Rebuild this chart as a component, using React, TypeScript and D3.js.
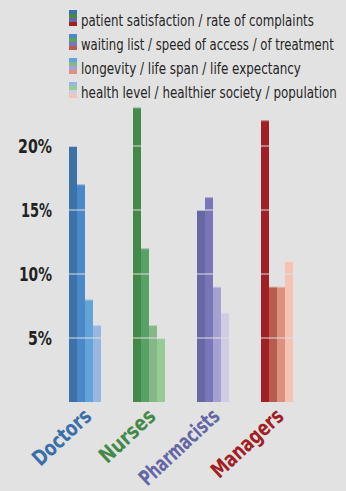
import React, { useLayoutEffect, useRef, useState } from "react";
import * as d3 from "d3";

const categories = ["Doctors", "Nurses", "Pharmacists", "Managers"];
const seriesLabels = [
  "patient satisfaction / rate of complaints",
  "waiting list / speed of access / of treatment",
  "longevity / life span / life expectancy",
  "health level / healthier society / population",
];
// values[category][series] in %
const doctors = [20, 17, 8, 6];
const nurses = [23, 12, 6, 5];
const pharmacists = [15, 16, 9, 7];
const managers = [22, 9, 9, 11];
const values = [doctors, nurses, pharmacists, managers];
const yTicks = [5, 10, 15, 20];

const palette = [
  ["#3d72a8", "#4a88c9", "#62a3d9", "#97b6e0"],
  ["#44884a", "#57a264", "#85b788", "#97cb96"],
  ["#6668a4", "#7b76b7", "#a7a1d1", "#cfcde4"],
  ["#a02026", "#b75d50", "#df8f7e", "#f4c3b4"],
];
const labelColors = ["#3a70aa", "#45894a", "#6566a4", "#a01f25"];
const legendWidths = [233, 253, 220, 256];
const tickWidths = [24, 33, 31, 34];
const catWidths = [72, 68, 101, 90];

const W = 346;
const H = 491;
const BG = "#e2e2e2";
const FONT = "'DejaVu Sans Condensed', 'Liberation Sans Narrow', sans-serif";

function FitText(props: {
  x: number;
  y: number;
  width: number;
  anchor?: "start" | "end";
  fontSize: number;
  bold?: boolean;
  fill: string;
  dy?: string;
  children: string;
}) {
  const ref = useRef<SVGTextElement>(null);
  const [sx, setSx] = useState(1);
  useLayoutEffect(() => {
    if (ref.current) {
      const w = ref.current.getComputedTextLength();
      if (w > 0) setSx(props.width / w);
    }
  }, [props.width, props.children]);
  return (
    <g transform={`translate(${props.x},${props.y}) scale(${sx},1)`}>
      <text
        ref={ref}
        x={0}
        y={0}
        dy={props.dy}
        textAnchor={props.anchor ?? "start"}
        fontFamily={FONT}
        fontWeight={props.bold ? "bold" : "normal"}
        fontSize={props.fontSize}
        fill={props.fill}
      >
        {props.children}
      </text>
    </g>
  );
}

export default function App() {
  const x = d3.scaleBand<string>().domain(categories).range([53, 309]).paddingInner(0.5).paddingOuter(0.25);
  const xs = d3.scaleBand<number>().domain([0, 1, 2, 3]).range([0, x.bandwidth()]).padding(0);
  const y = d3.scaleLinear().domain([0, 25]).range([402, 82]);
  const plotLeft = x(categories[0])!;
  const plotRight = x(categories[categories.length - 1])! + x.bandwidth();

  return (
    <div style={{ position: "absolute", left: 0, top: 0, width: W, height: H, background: BG }}>
      <svg width={W} height={H} style={{ display: "block" }}>
        <rect x={0} y={0} width={W} height={H} fill={BG} />
        {/* legend */}
        {seriesLabels.map((lab, i) => (
          <g key={lab} transform={`translate(0, ${10 + i * 24})`}>
            {palette.map((cols, j) => (
              <rect key={j} x={69} y={j * 4} width={8} height={4} fill={cols[i]} />
            ))}
            <FitText x={81} y={15.5} width={legendWidths[i]} fontSize={16.5} fill="#262626">
              {lab}
            </FitText>
          </g>
        ))}
        {/* bars */}
        {categories.map((c, ci) => (
          <g key={c} transform={`translate(${x(c)},0)`}>
            {values[ci].map((v, si) => (
              <g key={si}>
                <rect x={xs(si)} y={y(v)} width={xs.bandwidth()} height={y(0) - y(v)} fill={palette[ci][si]} />
                <line
                  x1={xs(si)!}
                  x2={xs(si)! + xs.bandwidth()}
                  y1={y(v) + 0.5}
                  y2={y(v) + 0.5}
                  stroke="#ffffff"
                  strokeOpacity={0.35}
                  strokeWidth={1}
                />
              </g>
            ))}
          </g>
        ))}
        {/* gridlines over bars */}
        {yTicks.map((t) => (
          <line
            key={t}
            x1={plotLeft}
            x2={plotRight}
            y1={y(t)}
            y2={y(t)}
            stroke={BG}
            strokeOpacity={0.65}
            strokeWidth={1.4}
          />
        ))}
        {/* y labels */}
        {yTicks.map((t, i) => (
          <FitText key={t} x={52} y={y(t)} dy="0.36em" anchor="end" width={tickWidths[i]} fontSize={20} bold fill="#222222">
            {`${t}%`}
          </FitText>
        ))}
        {/* category labels */}
        {categories.map((c, ci) => {
          const ax = x(c)! + x.bandwidth() / 2 + 8;
          const ay = 418;
          return (
            <g key={c} transform={`translate(${ax},${ay}) rotate(-43)`}>
              <FitText x={0} y={0} anchor="end" width={catWidths[ci]} fontSize={21.5} bold fill={labelColors[ci]}>
                {c}
              </FitText>
            </g>
          );
        })}
      </svg>
    </div>
  );
}
